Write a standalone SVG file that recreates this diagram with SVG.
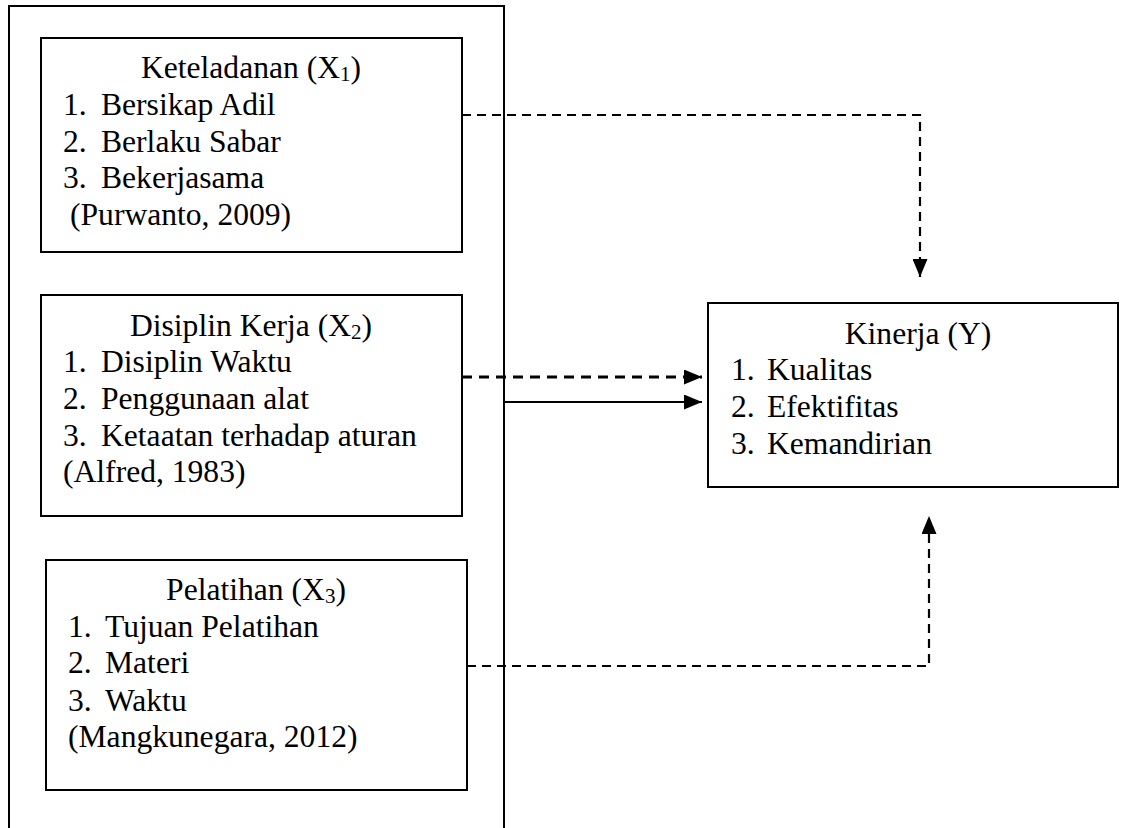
<svg xmlns="http://www.w3.org/2000/svg" width="1127" height="828" viewBox="0 0 1127 828">
<defs>
<style>
.box{fill:#fff;stroke:#000;stroke-width:2}
text{font-family:'Liberation Serif','Times New Roman',Tinos,'DejaVu Serif',serif;font-size:31.6px;fill:#000}
.c{text-anchor:middle}
.sub{font-size:21px}
.dash{fill:none;stroke:#000;stroke-width:2.2;stroke-dasharray:9,6}
.dash2{fill:none;stroke:#000;stroke-width:2.8;stroke-dasharray:10,7}
.solid{fill:none;stroke:#000;stroke-width:2}
</style>
<marker id="ah" markerWidth="18" markerHeight="15" refX="18" refY="7.5" orient="auto" markerUnits="userSpaceOnUse">
<path d="M0,0 L18,7.5 L0,15 Z" fill="#000"/>
</marker>
</defs>
<rect width="1127" height="828" fill="#fff"/>
<g id="outer">
<path d="M9,830 V6 H504 V830" class="solid"/>
</g>
<g id="x1">
<rect x="41" y="38" width="421" height="214" class="box"/>
<text class="c" x="251" y="78">Keteladanan (X<tspan class="sub" dy="3">1</tspan><tspan dy="-3">)</tspan></text>
<text x="63" y="115">1.</text><text x="101" y="115">Bersikap Adil</text>
<text x="63" y="152">2.</text><text x="101" y="152">Berlaku Sabar</text>
<text x="63" y="188">3.</text><text x="101" y="188">Bekerjasama</text>
<text x="70" y="225">(Purwanto, 2009)</text>
</g>
<g id="x2">
<rect x="41" y="295" width="421" height="221" class="box"/>
<text class="c" x="251" y="336">Disiplin Kerja (X<tspan class="sub" dy="3">2</tspan><tspan dy="-3">)</tspan></text>
<text x="63" y="372">1.</text><text x="101" y="372">Disiplin Waktu</text>
<text x="63" y="409">2.</text><text x="101" y="409">Penggunaan alat</text>
<text x="63" y="446">3.</text><text x="101" y="446">Ketaatan terhadap aturan</text>
<text x="63" y="482">(Alfred, 1983)</text>
</g>
<g id="x3">
<rect x="46" y="560" width="421" height="230" class="box"/>
<text class="c" x="256" y="600">Pelatihan (X<tspan class="sub" dy="3">3</tspan><tspan dy="-3">)</tspan></text>
<text x="68" y="637">1.</text><text x="105" y="637">Tujuan Pelatihan</text>
<text x="68" y="673">2.</text><text x="105" y="673">Materi</text>
<text x="68" y="711">3.</text><text x="105" y="711">Waktu</text>
<text x="68" y="747">(Mangkunegara, 2012)</text>
</g>
<g id="y">
<rect x="708" y="303" width="410" height="184" class="box"/>
<text class="c" x="918" y="344">Kinerja (Y)</text>
<text x="731" y="380">1.</text><text x="767" y="380">Kualitas</text>
<text x="731" y="417">2.</text><text x="767" y="417">Efektifitas</text>
<text x="731" y="454">3.</text><text x="767" y="454">Kemandirian</text>
</g>
<g id="connectors">
<path d="M462,115 H920 V277" class="dash" marker-end="url(#ah)"/>
<path d="M462,377 H702" class="dash2" marker-end="url(#ah)"/>
<path d="M504,402 H702" class="solid" marker-end="url(#ah)"/>
<path d="M467,666 H929 V516" class="dash" marker-end="url(#ah)"/>
</g>
</svg>
